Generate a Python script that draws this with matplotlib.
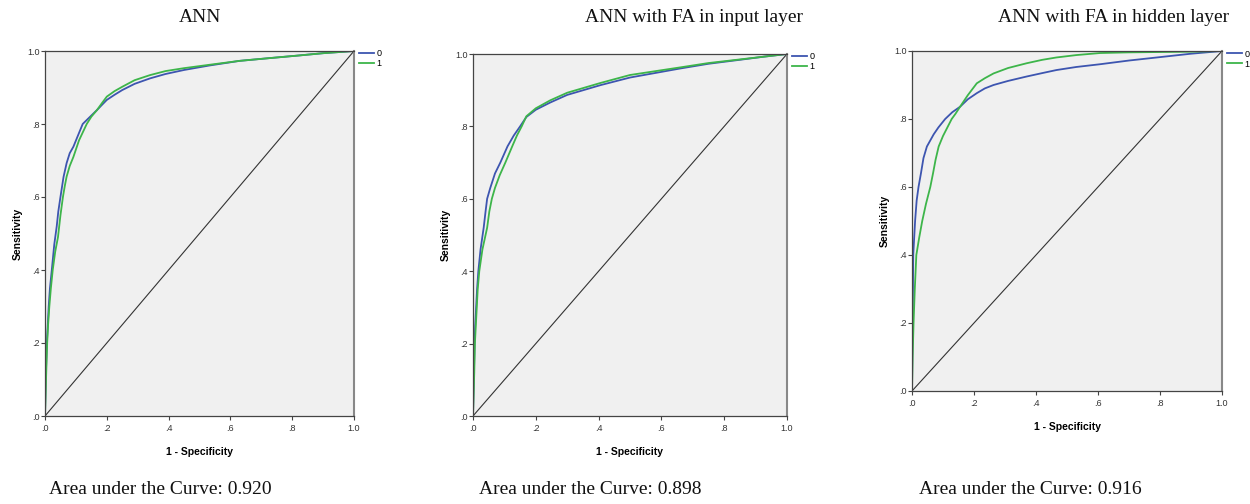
import matplotlib
matplotlib.use("Agg")
import matplotlib.pyplot as plt
from matplotlib.lines import Line2D

W, H = 1250, 504

titles = ["ANN", "ANN with FA in input layer", "ANN with FA in hidden layer"]
auc_values = ["0.920", "0.898", "0.916"]
legend_labels = ["0", "1"]
tick_vals = [0.0, 0.2, 0.4, 0.6, 0.8, 1.0]
tick_labels = [".0", ".2", ".4", ".6", ".8", "1.0"]

# Panel 1: ANN
ann_fpr_0 = [0, 0.003, 0.006, 0.009, 0.012, 0.016, 0.022, 0.03, 0.038, 0.043, 0.05, 0.06, 0.07, 0.08, 0.092, 0.105,
             0.122, 0.14, 0.168, 0.185, 0.2, 0.225, 0.25, 0.29, 0.34, 0.39, 0.45, 0.53, 0.63, 0.72, 0.825, 0.9, 1.0]
ann_tpr_0 = [0, 0.12, 0.2, 0.25, 0.3, 0.35, 0.4, 0.47, 0.52, 0.56, 0.6, 0.655, 0.693, 0.72, 0.738, 0.765,
             0.8, 0.815, 0.838, 0.853, 0.866, 0.88, 0.893, 0.91, 0.925, 0.937, 0.948, 0.96, 0.973, 0.98, 0.988, 0.994, 1.0]
ann_fpr_1 = [0, 0.004, 0.007, 0.01, 0.014, 0.019, 0.025, 0.033, 0.042, 0.05, 0.058, 0.064, 0.07, 0.08, 0.092, 0.11,
             0.135, 0.15, 0.168, 0.185, 0.2, 0.225, 0.25, 0.29, 0.34, 0.39, 0.45, 0.53, 0.63, 0.72, 0.825, 0.9, 1.0]
ann_tpr_1 = [0, 0.12, 0.2, 0.25, 0.3, 0.35, 0.4, 0.45, 0.49, 0.55, 0.6, 0.63, 0.656, 0.685, 0.71, 0.755,
             0.8, 0.82, 0.838, 0.858, 0.875, 0.89, 0.902, 0.92, 0.934, 0.945, 0.953, 0.962, 0.973, 0.98, 0.988, 0.994, 1.0]

# Panel 2: ANN with FA in input layer
inp_fpr_0 = [0, 0.003, 0.005, 0.007, 0.01, 0.013, 0.017, 0.024, 0.034, 0.04, 0.045, 0.055, 0.07, 0.087, 0.11,
             0.13, 0.15, 0.17, 0.2, 0.246, 0.3, 0.406, 0.5, 0.66, 0.75, 0.85, 0.93, 1.0]
inp_tpr_0 = [0, 0.12, 0.2, 0.25, 0.3, 0.35, 0.4, 0.46, 0.52, 0.565, 0.6, 0.63, 0.67, 0.7, 0.745,
             0.775, 0.8, 0.826, 0.846, 0.866, 0.887, 0.914, 0.935, 0.96, 0.973, 0.984, 0.993, 1.0]
inp_fpr_1 = [0, 0.004, 0.006, 0.009, 0.012, 0.015, 0.02, 0.03, 0.045, 0.052, 0.06, 0.07, 0.085, 0.103, 0.125,
             0.14, 0.155, 0.17, 0.2, 0.246, 0.3, 0.406, 0.5, 0.66, 0.75, 0.85, 0.93, 1.0]
inp_tpr_1 = [0, 0.12, 0.2, 0.25, 0.3, 0.35, 0.4, 0.46, 0.52, 0.565, 0.6, 0.63, 0.665, 0.7, 0.745,
             0.775, 0.8, 0.828, 0.85, 0.872, 0.893, 0.92, 0.942, 0.963, 0.975, 0.985, 0.993, 1.0]

# Panel 3: ANN with FA in hidden layer
hid_fpr_0 = [0, 0.001, 0.002, 0.003, 0.004, 0.007, 0.01, 0.015, 0.021, 0.029, 0.037, 0.048, 0.07, 0.085, 0.107,
             0.13, 0.155, 0.18, 0.209, 0.235, 0.263, 0.31, 0.37, 0.42, 0.466, 0.53, 0.606, 0.7, 0.8, 0.9, 1.0]
hid_tpr_0 = [0, 0.1, 0.2, 0.3, 0.4, 0.45, 0.5, 0.56, 0.6, 0.641, 0.685, 0.719, 0.755, 0.775, 0.8,
             0.82, 0.836, 0.858, 0.876, 0.89, 0.9, 0.912, 0.925, 0.935, 0.944, 0.953, 0.961, 0.972, 0.982, 0.992, 1.0]
hid_fpr_1 = [0, 0.002, 0.005, 0.009, 0.014, 0.023, 0.033, 0.045, 0.059, 0.068, 0.076, 0.086, 0.1, 0.128,
             0.14, 0.155, 0.18, 0.209, 0.235, 0.263, 0.31, 0.37, 0.42, 0.466, 0.53, 0.606, 0.7, 0.8, 0.9, 1.0]
hid_tpr_1 = [0, 0.1, 0.2, 0.3, 0.4, 0.45, 0.5, 0.55, 0.6, 0.641, 0.68, 0.719, 0.75, 0.8,
             0.815, 0.836, 0.87, 0.905, 0.92, 0.934, 0.95, 0.964, 0.974, 0.981, 0.988, 0.994, 0.996, 0.997, 0.998, 1.0]

panels = [
    (ann_fpr_0, ann_tpr_0, ann_fpr_1, ann_tpr_1),
    (inp_fpr_0, inp_tpr_0, inp_fpr_1, inp_tpr_1),
    (hid_fpr_0, hid_tpr_0, hid_fpr_1, hid_tpr_1),
]

# axes boxes in pixels: left, top, right, bottom
boxes = [(45, 51, 354, 416), (473, 54, 787, 416), (912, 51, 1222, 391)]
title_x = [200, 694, 1114]
auc_x = [160, 590, 1030]

BLUE = "#3D55B0"
GREEN = "#3DB54A"
BG = "#F0F0F0"

fig = plt.figure(figsize=(W / 100, H / 100), dpi=100)
sans = ["Liberation Sans", "DejaVu Sans"]
serif = ["Liberation Serif", "DejaVu Serif"]

for i, (box, data) in enumerate(zip(boxes, panels)):
    l, t, r, b = box
    ax = fig.add_axes([l / W, (H - b) / H, (r - l) / W, (b - t) / H])
    ax.set_facecolor(BG)
    ax.set_xlim(0, 1)
    ax.set_ylim(0, 1)
    ax.plot([0, 1], [0, 1], color="#333333", lw=0.8)
    f0, t0, f1, t1 = data
    ax.plot(f0, t0, color=BLUE, lw=1.3)
    ax.plot(f1, t1, color=GREEN, lw=1.3)
    ax.set_xticks(tick_vals)
    ax.set_yticks(tick_vals)
    ax.set_xticklabels(tick_labels, family=sans, fontsize=6.5, color="#333333")
    ax.set_yticklabels(tick_labels, family=sans, fontsize=6.5, color="#333333")
    ax.tick_params(axis="x", length=3, width=0.8, color="#444444", pad=2.5)
    ax.tick_params(axis="y", length=3, width=0.8, color="#444444", pad=1)
    for s in ["left", "bottom", "top"]:
        ax.spines[s].set_color("#444444")
        ax.spines[s].set_linewidth(0.9)
    ax.spines["right"].set_color("#888888")
    ax.spines["right"].set_linewidth(1.5)
    ax.set_xlabel("1 - Specificity", family=sans, fontsize=7.5, fontweight="bold", labelpad=10)
    ax.set_ylabel("Sensitivity", family=sans, fontsize=7.5, fontweight="bold", labelpad=3)
    handles = [Line2D([], [], color=BLUE, lw=1.3), Line2D([], [], color=GREEN, lw=1.3)]
    ax.legend(handles, legend_labels, loc="upper left", bbox_to_anchor=(1.0, 1.02),
              frameon=False, prop={"family": sans, "size": 6.5}, handlelength=1.6,
              handletextpad=0.3, labelspacing=0.1, borderaxespad=0.2)
    fig.text(title_x[i] / W, 1 - 17 / H, titles[i], family=serif, fontsize=14,
             ha="center", va="center", color="#111111")
    fig.text(auc_x[i] / W, 1 - 490 / H, "Area under the Curve: " + auc_values[i],
             family=serif, fontsize=14, ha="center", va="center", color="#111111")

fig.savefig("out.png", dpi=100, facecolor="white")
